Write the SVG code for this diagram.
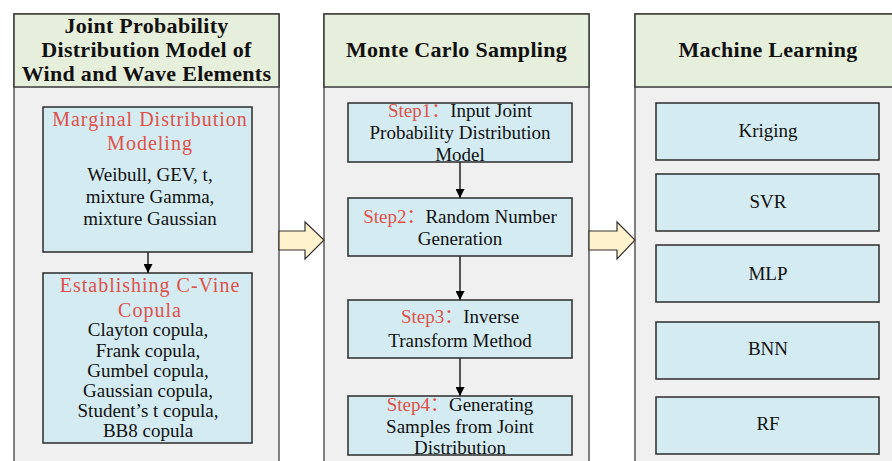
<svg xmlns="http://www.w3.org/2000/svg" width="892" height="461" viewBox="0 0 892 461">
<defs>
<style>
.panel{fill:#F0F0F0;stroke:#5A5A5A;stroke-width:1.5}
.head{fill:#E6EFDB;stroke:#3A3A3A;stroke-width:1.5}
.box{fill:#D4ECF1;stroke:#2B2B2B;stroke-width:1.5}
.ht{font-family:"Liberation Serif","Noto Sans CJK SC",serif;font-weight:bold;font-size:22px;fill:#111;text-anchor:middle;letter-spacing:0.3px}
.rt{font-family:"Liberation Serif","Noto Sans CJK SC",serif;font-size:20px;fill:#E0504A;text-anchor:middle;letter-spacing:1px}
.bt{font-family:"Liberation Serif","Noto Sans CJK SC",serif;font-size:19px;fill:#111;text-anchor:middle}
.red{fill:#E0504A}
.conn{stroke:#222;stroke-width:1.5;fill:none}
.big{fill:#FFF2CC;stroke:#333;stroke-width:1.2}
</style>
<marker id="ah" viewBox="0 0 10 10" refX="10" refY="5" markerWidth="9" markerHeight="9" markerUnits="userSpaceOnUse" orient="auto">
<path d="M0,0 L10,5 L0,10 Z" fill="#000"/>
</marker>
</defs>

<g id="panel-joint">
<rect class="panel" x="14" y="14" width="265" height="460"/>
<rect class="head" x="14" y="14" width="265" height="73"/>
<text class="ht" x="146.5" y="33">Joint Probability</text>
<text class="ht" x="146.5" y="57">Distribution Model of</text>
<text class="ht" x="146.5" y="81">Wind and Wave Elements</text>
</g>

<g id="panel-mc">
<rect class="panel" x="324" y="14" width="265" height="460"/>
<rect class="head" x="324" y="14" width="265" height="73"/>
<text class="ht" x="456.5" y="57">Monte Carlo Sampling</text>
</g>

<g id="panel-ml">
<rect class="panel" x="635" y="14" width="265" height="460"/>
<rect class="head" x="635" y="14" width="265" height="73"/>
<text class="ht" x="768" y="57">Machine Learning</text>
</g>

<g id="marginal">
<rect class="box" x="43" y="107" width="209" height="145"/>
<text class="rt" x="150" y="126">Marginal Distribution</text>
<text class="rt" x="150" y="150">Modeling</text>
<text class="bt" x="150" y="181">Weibull, GEV, t,</text>
<text class="bt" x="150" y="203">mixture Gamma,</text>
<text class="bt" x="150" y="225">mixture Gaussian</text>
</g>

<g id="cvine">
<rect class="box" x="43" y="273" width="209" height="170"/>
<text class="rt" x="150" y="292">Establishing C-Vine</text>
<text class="rt" x="150" y="317">Copula</text>
<text class="bt" x="148" y="336">Clayton copula,</text>
<text class="bt" x="148" y="357">Frank copula,</text>
<text class="bt" x="148" y="377">Gumbel copula,</text>
<text class="bt" x="148" y="397">Gaussian copula,</text>
<text class="bt" x="148" y="417">Student’s t copula,</text>
<text class="bt" x="148" y="437">BB8 copula</text>
</g>

<g id="step1">
<rect class="box" x="348" y="103" width="224" height="59"/>
<text class="bt" x="460" y="117"><tspan class="red">Step1：</tspan>Input Joint</text>
<text class="bt" x="460" y="139">Probability Distribution</text>
<text class="bt" x="460" y="161">Model</text>
</g>

<g id="step2">
<rect class="box" x="348" y="198" width="224" height="58"/>
<text class="bt" x="460" y="223"><tspan class="red">Step2：</tspan>Random Number</text>
<text class="bt" x="460" y="245">Generation</text>
</g>

<g id="step3">
<rect class="box" x="348" y="300" width="224" height="58"/>
<text class="bt" x="460" y="323"><tspan class="red">Step3：</tspan>Inverse</text>
<text class="bt" x="460" y="347">Transform Method</text>
</g>

<g id="step4">
<rect class="box" x="348" y="396" width="224" height="59"/>
<text class="bt" x="460" y="411"><tspan class="red">Step4：</tspan>Generating</text>
<text class="bt" x="460" y="433">Samples from Joint</text>
<text class="bt" x="460" y="454">Distribution</text>
</g>

<g id="kriging">
<rect class="box" x="656" y="103" width="223" height="57"/>
<text class="bt" x="768" y="137">Kriging</text>
</g>
<g id="svr">
<rect class="box" x="656" y="174" width="223" height="57"/>
<text class="bt" x="768" y="208">SVR</text>
</g>
<g id="mlp">
<rect class="box" x="656" y="245" width="223" height="57"/>
<text class="bt" x="768" y="280">MLP</text>
</g>
<g id="bnn">
<rect class="box" x="656" y="322" width="223" height="57"/>
<text class="bt" x="768" y="355">BNN</text>
</g>
<g id="rf">
<rect class="box" x="656" y="397" width="223" height="57"/>
<text class="bt" x="768" y="430">RF</text>
</g>

<g id="connectors">
<line class="conn" x1="148" y1="252" x2="148" y2="273" marker-end="url(#ah)"/>
<line class="conn" x1="460" y1="162" x2="460" y2="198" marker-end="url(#ah)"/>
<line class="conn" x1="460" y1="256" x2="460" y2="300" marker-end="url(#ah)"/>
<line class="conn" x1="460" y1="358" x2="460" y2="396" marker-end="url(#ah)"/>
<path class="big" d="M279,231 L305,231 L305,222 L324,240 L305,259 L305,250 L279,250 Z"/>
<path class="big" d="M589,231 L617,231 L617,222 L635,240 L617,259 L617,250 L589,250 Z"/>
</g>
</svg>
